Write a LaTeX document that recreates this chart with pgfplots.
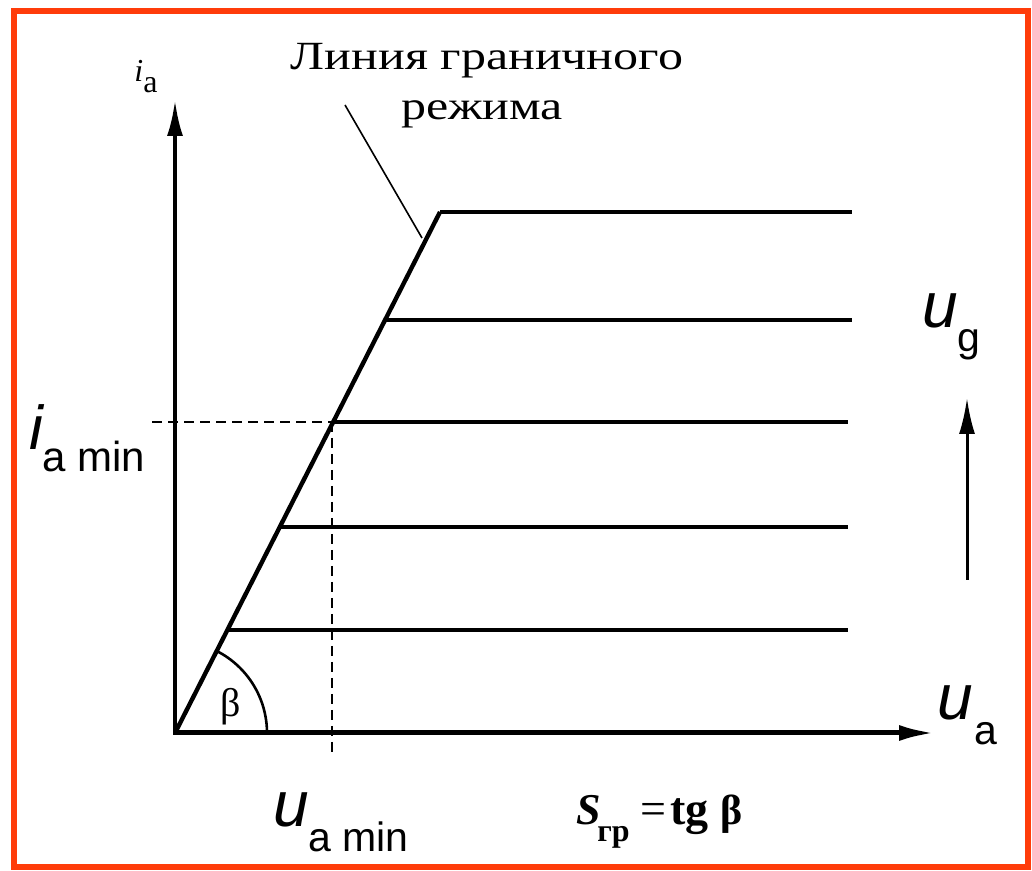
\documentclass[border=0pt]{standalone}
\usepackage{pgfplots}
\pgfplotsset{compat=1.18}
\usetikzlibrary{arrows.meta}
\usepackage{graphicx}
\usepackage{fontspec}
\setmainfont{Liberation Serif}
\newfontfamily\sans{Liberation Sans}
\definecolor{framec}{RGB}{255,60,10}
\begin{document}
\begin{tikzpicture}
\begin{axis}[x=0.5pt,y=0.5pt, xmin=-175, xmax=857, ymin=-138, ymax=733,
  hide axis, clip=false, scale only axis]
\fill[white] (-175,-138) rectangle (857,733);
\draw[framec, line width=3pt] (-161,-134) rectangle (853,722);
% axes
\addplot[black, line width=2pt, -{Latex[length=18pt,width=8pt]}] coordinates {(0,-2) (0,633)};
\addplot[black, line width=2.5pt, -{Latex[length=18pt,width=8pt]}] coordinates {(-2,0) (760,0)};
% boundary line
\addplot[black, line width=2.2pt] coordinates {(0,0) (265,521)};
% output characteristics
\addplot[black, line width=2.2pt] coordinates {(265,521) (677,521)};
\addplot[black, line width=2.2pt] coordinates {(210,413) (677,413)};
\addplot[black, line width=2.2pt] coordinates {(158,311) (673,311)};
\addplot[black, line width=2.2pt] coordinates {(105,206) (673,206)};
\addplot[black, line width=2.2pt] coordinates {(53,103) (673,103)};
% dashed
\addplot[black, line width=1pt, dash pattern=on 5pt off 3pt] coordinates {(-23,311) (158,311)};
\addplot[black, line width=1pt, dash pattern=on 5pt off 3pt] coordinates {(157,311) (157,-22)};
% arc
\draw[line width=1.3pt] (92,0) arc[start angle=0, end angle=63, radius=46pt];
\node[font=\fontsize{20}{20}\selectfont] at (56,26) {β};
% annotation
\addplot[black, line width=0.8pt] coordinates {(170,628) (247,495)};
\node[anchor=base, inner sep=0pt, font=\fontsize{20}{20}\selectfont] at (312,663) {\scalebox{1.25}[1]{Линия граничного}};
\node[anchor=base, inner sep=0pt, font=\fontsize{20}{20}\selectfont] at (307,613) {\scalebox{1.25}[1]{режима}};
% i_a
\node[anchor=base west, inner sep=0pt, font=\fontsize{16}{16}\selectfont\itshape] at (-41,651) {i};
\node[anchor=base west, inner sep=0pt, font=\fontsize{16}{16}\selectfont] at (-32,640) {a};
% i_a min
\node[anchor=base west, inner sep=0pt, font=\fontsize{31}{31}\selectfont\sans\itshape] at (-146,283) {i};
\node[anchor=base west, inner sep=0pt, font=\fontsize{21}{21}\selectfont\sans] at (-133,261) {a min};
% u_g
\node[anchor=base west, inner sep=0pt, font=\fontsize{32}{32}\selectfont\sans\itshape] at (747,405) {u};
\node[anchor=base west, inner sep=0pt, font=\fontsize{20.5}{20.5}\selectfont\sans] at (782,381) {g};
\draw[line width=1.5pt, -{Latex[length=18pt,width=8pt]}] (792,153) -- (792,335);
% u_a
\node[anchor=base west, inner sep=0pt, font=\fontsize{32}{32}\selectfont\sans\itshape] at (762,13) {u};
\node[anchor=base west, inner sep=0pt, font=\fontsize{20.5}{20.5}\selectfont\sans] at (799,-12) {a};
% u_a min
\node[anchor=base west, inner sep=0pt, font=\fontsize{32}{32}\selectfont\sans\itshape] at (98,-94) {u};
\node[anchor=base west, inner sep=0pt, font=\fontsize{20.5}{20.5}\selectfont\sans] at (133,-119) {a min};
% S = tg beta
\node[anchor=base west, inner sep=0pt, font=\fontsize{22}{22}\selectfont\bfseries\itshape] at (401,-92) {S};
\node[anchor=base west, inner sep=0pt, font=\fontsize{16}{16}\selectfont\bfseries] at (422,-109) {гр};
\node[anchor=base west, inner sep=0pt, font=\fontsize{23}{23}\selectfont] at (465,-92) {=};
\node[anchor=base west, inner sep=0pt, font=\fontsize{23}{23}\selectfont\bfseries] at (495,-92) {tg};
\node[anchor=base west, inner sep=0pt, font=\fontsize{21}{21}\selectfont\bfseries] at (545,-92) {β};
\end{axis}
\end{tikzpicture}
\end{document}
